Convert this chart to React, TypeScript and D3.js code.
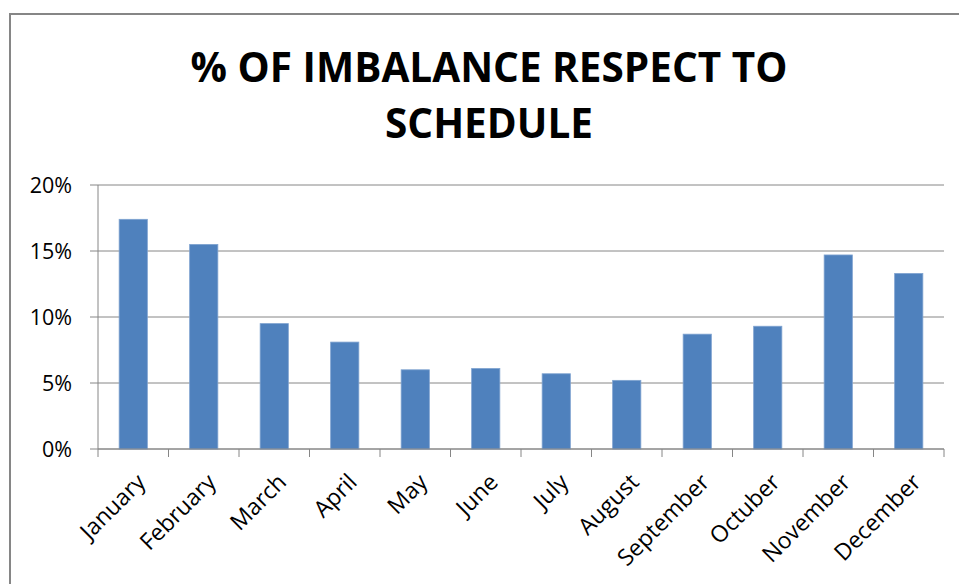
import React, { useRef, useEffect } from 'react';
import * as d3 from 'd3';

const months = ['January', 'February', 'March', 'April', 'May', 'June', 'July', 'August', 'September', 'Octuber', 'November', 'December'];
const imbalance = [0.174, 0.155, 0.095, 0.081, 0.060, 0.061, 0.057, 0.052, 0.087, 0.093, 0.147, 0.133];
const yTicks = [0, 0.05, 0.1, 0.15, 0.2];
const titleLines = ['% OF IMBALANCE RESPECT TO', 'SCHEDULE'];

const W = 959;
const H = 584;

const App = () => {
    const chartRef = useRef(null);

    useEffect(() => {
        d3.select(chartRef.current).selectAll('*').remove();

        const svg = d3.select(chartRef.current)
            .attr('width', W)
            .attr('height', H);

        // chart frame, runs off the right and bottom of the picture
        svg.append('rect')
            .attr('x', 10).attr('y', 14)
            .attr('width', W + 20).attr('height', H + 20)
            .attr('fill', '#fff')
            .attr('stroke', '#868686')
            .attr('stroke-width', 2);

        const margin = { top: 185, right: 15, bottom: 135, left: 98 };
        const width = W - margin.left - margin.right;
        const height = H - margin.top - margin.bottom;

        const x = d3.scaleBand()
            .domain(months)
            .range([0, width])
            .paddingInner(0.6)
            .paddingOuter(0.3);

        const y = d3.scaleLinear()
            .domain([0, 0.2])
            .range([height, 0]);

        const g = svg.append('g')
            .attr('transform', `translate(${margin.left},${margin.top})`);

        // gridlines + y labels
        g.append('g')
            .selectAll('line')
            .data(yTicks)
            .join('line')
            .attr('x1', -8).attr('x2', width)
            .attr('y1', d => y(d)).attr('y2', d => y(d))
            .attr('stroke', '#868686')
            .attr('stroke-width', 1);

        g.append('g')
            .selectAll('text')
            .data(yTicks)
            .join('text')
            .attr('x', -26)
            .attr('y', d => y(d))
            .attr('dy', '0.36em')
            .attr('text-anchor', 'end')
            .attr('font-family', 'Open Sans, sans-serif')
            .attr('font-size', 21.5)
            .attr('fill', '#000')
            .text(d => d3.format('.0%')(d));

        // bars
        g.append('g')
            .selectAll('rect')
            .data(months)
            .join('rect')
            .attr('x', d => x(d))
            .attr('y', (d, i) => y(imbalance[i]))
            .attr('width', x.bandwidth())
            .attr('height', (d, i) => height - y(imbalance[i]))
            .attr('fill', '#4F81BD')
            .attr('stroke', '#7FA3D0')
            .attr('stroke-width', 0.8);

        // axes lines
        const step = x.step();
        g.append('line')
            .attr('x1', 0).attr('x2', 0)
            .attr('y1', 0).attr('y2', height + 8)
            .attr('stroke', '#868686');
        g.append('line')
            .attr('x1', 0).attr('x2', width)
            .attr('y1', height).attr('y2', height)
            .attr('stroke', '#868686');
        g.append('g')
            .selectAll('line')
            .data(d3.range(1, months.length + 1))
            .join('line')
            .attr('x1', d => d * step).attr('x2', d => d * step)
            .attr('y1', height).attr('y2', height + 8)
            .attr('stroke', '#868686');

        // month labels
        g.append('g')
            .selectAll('text')
            .data(months)
            .join('text')
            .attr('transform', d => `translate(${x(d) + x.bandwidth() / 2 + 3},${height + 24}) rotate(-45)`)
            .attr('text-anchor', 'end')
            .attr('dy', '0.65em')
            .attr('font-family', 'Open Sans, sans-serif')
            .attr('font-size', 23)
            .attr('fill', '#000')
            .text(d => d);

        // title
        svg.append('g')
            .selectAll('text')
            .data(titleLines)
            .join('text')
            .attr('x', 489)
            .attr('y', (d, i) => 82 + i * 56)
            .attr('text-anchor', 'middle')
            .attr('font-family', 'Open Sans, sans-serif')
            .attr('font-weight', 'bold')
            .attr('font-size', 40.5)
            .attr('fill', '#000')
            .text(d => d);
    }, []);

    return <svg ref={chartRef} style={{ position: 'absolute', left: 0, top: 0 }}></svg>;
};

export default App;
